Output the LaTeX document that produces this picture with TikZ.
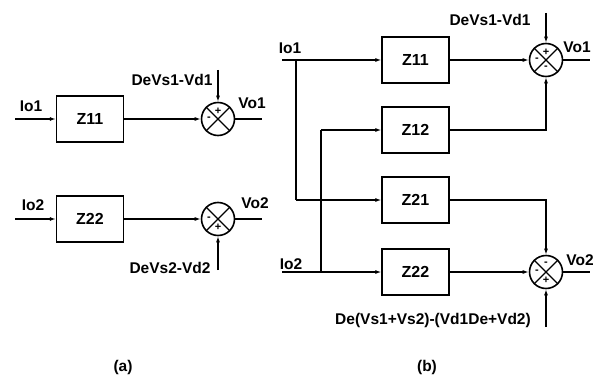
\documentclass[tikz,border=0pt]{standalone}
\usepackage{fontspec}
\setmainfont{Liberation Sans}
\usetikzlibrary{arrows.meta}
\begin{document}
\begin{tikzpicture}[x=1pt,y=-1pt,
  lw/.style={line width=1.3pt},
  blk/.style={draw,lw,minimum width=67pt,minimum height=46pt,inner sep=0pt,font=\fontsize{16}{18}\selectfont\bfseries},
  sumc/.style={draw,circle,line width=1.6pt,minimum size=33pt,inner sep=0pt},
  arr/.style={lw,-{Latex[length=6pt,width=4pt]}},
  ln/.style={lw},
  lbl/.style={inner sep=0pt,font=\fontsize{15.5}{18}\selectfont\bfseries},
  sg/.style={inner sep=0pt,font=\fontsize{11}{12}\selectfont\bfseries}]
\useasboundingbox (0,0) rectangle (609,377);
\newcommand{\xcross}[1]{\draw[line width=1.3pt] (#1.45) -- (#1.225) (#1.135) -- (#1.315);}
% ---------- panel (a)
\node[blk] (a11) at (90,119) {Z11};
\node[sumc] (as1) at (218,119) {};
\xcross{as1}
\coordinate (ai1) at (15,119);
\coordinate (at1) at (218,70);
\coordinate (ao1) at (262,119);
\draw[arr] (ai1) -- (a11);
\draw[arr] (a11) -- (as1);
\draw[arr] (at1) -- (as1);
\draw[ln] (as1) -- (ao1);
\node[sg] at ([yshift=8pt]as1.center) {+};
\node[sg] at ([xshift=-9pt]as1.center) {-};
\node[lbl] (la1) at (31,106) {Io1};
\node[lbl] (la2) at (172,80) {DeVs1-Vd1};
\node[lbl] (la3) at (252,103) {Vo1};

\node[blk] (a22) at (90,219) {Z22};
\node[sumc] (as2) at (218,219) {};
\xcross{as2}
\coordinate (ai2) at (15,219);
\coordinate (ab2) at (218,270);
\coordinate (ao2) at (262,219);
\draw[arr] (ai2) -- (a22);
\draw[arr] (a22) -- (as2);
\draw[arr] (ab2) -- (as2);
\draw[ln] (as2) -- (ao2);
\node[sg] at ([yshift=-8pt]as2.center) {+};
\node[sg] at ([xshift=-9pt]as2.center) {-};
\node[lbl] (la4) at (33,205) {Io2};
\node[lbl] (la5) at (170,268) {DeVs2-Vd2};
\node[lbl] (la6) at (255,203) {Vo2};
\node[lbl] (la7) at (123,367) {(a)};

% ---------- panel (b)
\node[blk] (b11) at (415.5,60) {Z11};
\node[blk] (b12) at (415.5,130) {Z12};
\node[blk] (b21) at (415.5,200) {Z21};
\node[blk] (b22) at (415.5,272) {Z22};
\node[sumc] (bs1) at (546,60) {};
\node[sumc] (bs2) at (546,272) {};
\xcross{bs1}
\xcross{bs2}
\coordinate (bi1) at (282,60);
\coordinate (bj1) at (296,60);
\coordinate (bk1) at (296,200);
\coordinate (bi2) at (282,272);
\coordinate (bj2) at (321,272);
\coordinate (bk2) at (321,130);
\coordinate (bt1) at (546,13);
\coordinate (bb2) at (546,327);
\coordinate (bo1) at (590,60);
\coordinate (bo2) at (590,272);
\draw[arr] (bi1) -- (b11);
\draw[arr] (bi2) -- (b22);
\draw[ln] (bj1) -- (bk1);
\draw[arr] (bk1) -- (b21);
\draw[ln] (bj2) -- (bk2);
\draw[arr] (bk2) -- (b12);
\draw[arr] (b11) -- (bs1);
\draw[arr] (b22) -- (bs2);
\draw[arr] (b12.east) -| (bs1.south);
\draw[arr] (b21.east) -| (bs2.north);
\draw[arr] (bt1) -- (bs1);
\draw[arr] (bb2) -- (bs2);
\draw[ln] (bs1) -- (bo1);
\draw[ln] (bs2) -- (bo2);
\node[sg] at ([yshift=8pt]bs1.center) {+};
\node[sg] at ([xshift=-9pt]bs1.center) {-};
\node[sg] at ([yshift=-8pt]bs1.center) {-};
\node[sg] at ([yshift=8pt]bs2.center) {-};
\node[sg] at ([xshift=-9pt]bs2.center) {-};
\node[sg] at ([yshift=-8pt]bs2.center) {+};
\node[lbl] (lb1) at (290,48) {Io1};
\node[lbl] (lb2) at (490,20) {DeVs1-Vd1};
\node[lbl] (lb3) at (577,47) {Vo1};
\node[lbl] (lb4) at (291,264) {Io2};
\node[lbl] (lb5) at (580,260) {Vo2};
\node[lbl] (lb6) at (433,320) {De(Vs1+Vs2)-(Vd1De+Vd2)};
\node[lbl] (lb7) at (427,367) {(b)};
\end{tikzpicture}
\end{document}
